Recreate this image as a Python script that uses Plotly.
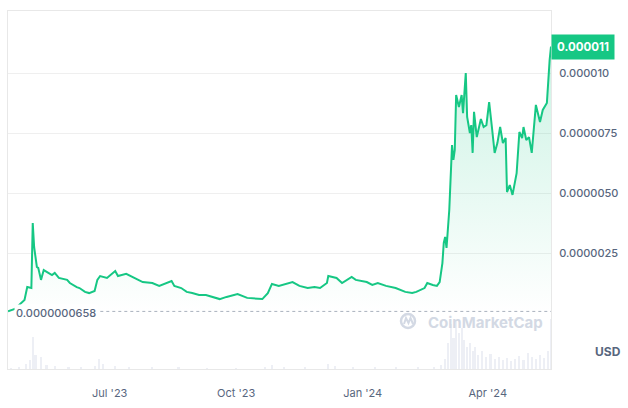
import plotly.graph_objects as go

# ---- data (values in units of 1e-6 USD) ----
dates = [
    "2023-04-18", "2023-04-23", "2023-04-30", "2023-05-02", "2023-05-05", "2023-05-06",
    "2023-05-07", "2023-05-09", "2023-05-10", "2023-05-12", "2023-05-14", "2023-05-20",
    "2023-05-22", "2023-05-25", "2023-05-31", "2023-06-02", "2023-06-07", "2023-06-09",
    "2023-06-13", "2023-06-16", "2023-06-20", "2023-06-22", "2023-06-24", "2023-06-29",
    "2023-07-05", "2023-07-07", "2023-07-13", "2023-07-18", "2023-07-25", "2023-08-01",
    "2023-08-06", "2023-08-15", "2023-08-17", "2023-08-22", "2023-08-26", "2023-08-30",
    "2023-09-04", "2023-09-09", "2023-09-19", "2023-09-24", "2023-10-02", "2023-10-09",
    "2023-10-20", "2023-10-24", "2023-10-27", "2023-11-01", "2023-11-11", "2023-11-16",
    "2023-11-22", "2023-11-27", "2023-12-01", "2023-12-06", "2023-12-07", "2023-12-13",
    "2023-12-17", "2023-12-24", "2023-12-27", "2024-01-04", "2024-01-08", "2024-01-12",
    "2024-01-18", "2024-01-25", "2024-02-01", "2024-02-06", "2024-02-09", "2024-02-15",
    "2024-02-17", "2024-02-21", "2024-02-24", "2024-02-26", "2024-02-28", "2024-02-29",
    "2024-03-01", "2024-03-02", "2024-03-03", "2024-03-04", "2024-03-06", "2024-03-07",
    "2024-03-08", "2024-03-09", "2024-03-11", "2024-03-13", "2024-03-14", "2024-03-16",
    "2024-03-17", "2024-03-19", "2024-03-20", "2024-03-21", "2024-03-22", "2024-03-24",
    "2024-03-27", "2024-03-29", "2024-03-31", "2024-04-02", "2024-04-04", "2024-04-06",
    "2024-04-08", "2024-04-10", "2024-04-12", "2024-04-14", "2024-04-15", "2024-04-17",
    "2024-04-19", "2024-04-22", "2024-04-24", "2024-04-26", "2024-04-27", "2024-04-29",
    "2024-05-01", "2024-05-03", "2024-05-06", "2024-05-09", "2024-05-11", "2024-05-14",
    "2024-05-16", "2024-05-17",
]
price = [
    0.07, 0.17, 0.54, 1.08, 1.04, 3.75,
    2.75, 1.92, 1.88, 1.38, 1.79, 1.58,
    1.67, 1.46, 1.38, 1.25, 1.08, 1.04,
    0.88, 0.83, 0.92, 1.38, 1.54, 1.46,
    1.75, 1.54, 1.63, 1.50, 1.29, 1.25,
    1.13, 1.33, 1.13, 1.04, 0.88, 0.83,
    0.75, 0.75, 0.58, 0.67, 0.79, 0.63,
    0.58, 0.83, 1.21, 1.13, 1.29, 1.13,
    1.04, 1.08, 1.04, 1.25, 1.54, 1.46,
    1.25, 1.50, 1.38, 1.29, 1.17, 1.25,
    1.13, 1.04, 0.88, 0.83, 0.88, 1.04,
    1.25, 1.17, 1.13, 1.29, 2.08, 2.92,
    3.17, 2.71, 3.46, 4.29, 7.00, 6.38,
    6.79, 9.08, 8.58, 9.08, 8.33, 10.0,
    8.17, 7.50, 7.83, 6.67, 8.38, 7.33,
    8.08, 7.75, 7.83, 8.79, 7.75, 6.67,
    7.08, 7.75, 7.08, 7.29, 5.04, 5.33,
    4.92, 5.83, 7.54, 7.29, 7.75, 7.21,
    7.33, 6.67, 8.67, 7.96, 8.46, 8.75,
    10.54, 11.1,
]
price_scale = 1e-6

vol_dates = [
    "2023-04-20", "2023-04-26", "2023-05-01", "2023-05-04", "2023-05-06", "2023-05-08",
    "2023-05-12", "2023-05-16", "2023-05-22", "2023-06-01", "2023-06-10", "2023-06-20",
    "2023-06-23", "2023-06-26", "2023-07-05", "2023-07-15", "2023-08-01", "2023-08-20",
    "2023-09-10", "2023-10-01", "2023-10-22", "2023-10-27", "2023-11-05", "2023-11-20",
    "2023-12-07", "2023-12-12", "2023-12-25", "2024-01-10", "2024-01-25", "2024-02-10",
    "2024-02-22", "2024-02-27", "2024-03-01", "2024-03-03", "2024-03-05", "2024-03-07",
    "2024-03-09", "2024-03-11", "2024-03-13", "2024-03-15", "2024-03-17", "2024-03-19",
    "2024-03-21", "2024-03-23", "2024-03-25", "2024-03-28", "2024-03-31", "2024-04-03",
    "2024-04-06", "2024-04-09", "2024-04-12", "2024-04-15", "2024-04-18", "2024-04-21",
    "2024-04-24", "2024-04-27", "2024-04-30", "2024-05-03", "2024-05-06", "2024-05-09",
    "2024-05-12", "2024-05-15", "2024-05-17",
]
volume = [
    1, 2, 5, 9, 31, 14,
    12, 4, 3, 2, 2, 3,
    10, 5, 3, 2, 1.5, 1.5,
    1, 1, 1.5, 4, 2, 1.5,
    5, 3, 2, 1.5, 1.5, 1.5,
    2, 4, 10, 25, 44, 30,
    47, 35, 40, 28, 22, 25,
    18, 22, 14, 18, 12, 15,
    10, 12, 9, 11, 8, 10,
    13, 9, 16, 12, 10, 14,
    11, 18, 49,
]

tick_dates = ["2023-07-01", "2023-10-01", "2024-01-01", "2024-04-01"]
tick_labels = ["Jul '23", "Oct '23", "Jan '24", "Apr '24"]
y_ticks = [2.5, 5.0, 7.5, 10.0]
y_tick_labels = ["0.0000025", "0.0000050", "0.0000075", "0.000010"]
min_label = "0.0000000658"
min_value = 0.0658
last_label = "0.000011"

GREEN = "#16c784"
GREY_TXT = "#58667e"
GRID = "#efefef"

yv = [p * price_scale for p in price]

fig = go.Figure()

fig.add_trace(go.Bar(
    x=vol_dates, y=volume, yaxis="y2",
    marker=dict(color="rgba(215,220,232,0.45)", line=dict(width=0)),
    width=1.6 * 86400000, hoverinfo="skip", showlegend=False,
))

fig.add_trace(go.Scatter(
    x=dates, y=yv, mode="lines",
    line=dict(color=GREEN, width=2),
    fill="tozeroy",
    fillgradient=dict(
        type="vertical",
        start=0, stop=11e-6,
        colorscale=[[0, "rgba(22,199,132,0.0)"], [1, "rgba(22,199,132,0.22)"]],
    ),
    showlegend=False,
))

# plot spans 358 px; price zero sits 56 px above the bottom; 24 px per 1e-6
y_lo = -56 / 24 * 1e-6
y_hi = (358 - 56) / 24 * 1e-6
vmax = max(volume)
v_hi = vmax / 50 * 358

fig.update_layout(
    width=628, height=408,
    margin=dict(l=8, r=77, t=11, b=39),
    paper_bgcolor="white", plot_bgcolor="white",
    font=dict(family="Inter, Roboto, sans-serif", color=GREY_TXT),
    xaxis=dict(
        type="date",
        range=["2023-04-18", "2024-05-17"],
        tickvals=tick_dates, ticktext=tick_labels,
        tickfont=dict(size=11, color=GREY_TXT),
        showgrid=False, zeroline=False,
        showline=True, linecolor="#e8e8e8", mirror=True,
        ticks="", ticklabelstandoff=14,
    ),
    yaxis=dict(
        range=[y_lo, y_hi],
        side="right",
        tickvals=[t * price_scale for t in y_ticks],
        ticktext=y_tick_labels,
        tickfont=dict(size=11, color=GREY_TXT, weight=500),
        showgrid=True, gridcolor=GRID, gridwidth=1,
        zeroline=False,
        showline=True, linecolor="#e8e8e8", mirror=True,
        ticks="", ticklabelstandoff=5,
    ),
    yaxis2=dict(
        range=[0, v_hi], overlaying="y", side="left",
        visible=False, showgrid=False, zeroline=False,
    ),
    bargap=0,
    shapes=[
        dict(type="line", xref="paper", yref="y", x0=0.17, x1=1,
             y0=min_value * price_scale, y1=min_value * price_scale,
             line=dict(color="#aab1bd", width=1, dash="dot")),
        dict(type="circle", xref="paper", yref="paper",
             x0=(401 - 8) / 543, x1=(415 - 8) / 543,
             y0=(369 - 328) / 358, y1=(369 - 314) / 358,
             line=dict(color="#d3d9e4", width=2.5)),
        dict(type="path", xref="paper", yref="paper",
             path="M {a},{b} L {c},{d} L {e},{f} L {g},{d} L {h},{b}".format(
                 a=(404 - 8) / 543, b=(369 - 324) / 358,
                 c=(406 - 8) / 543, d=(369 - 318) / 358,
                 e=(408.5 - 8) / 543, f=(369 - 323) / 358,
                 g=(410.5 - 8) / 543, h=(413 - 8) / 543),
             line=dict(color="#d3d9e4", width=2)),
    ],
    annotations=[
        dict(xref="paper", yref="y", x=0.0, y=min_value * price_scale,
             xanchor="left", yanchor="middle", xshift=6, yshift=-2,
             text=min_label, showarrow=False, bgcolor="white",
             font=dict(size=11, color=GREY_TXT, weight=500)),
        dict(xref="paper", yref="y", x=1.0, y=price[-1] * price_scale,
             xanchor="left", yanchor="middle", xshift=0,
             text="<b>" + last_label + "</b>", showarrow=False,
             bgcolor=GREEN, borderpad=5,
             font=dict(size=11.5, color="white")),
        dict(xref="paper", yref="paper", x=1.0, y=(369 - 351) / 358,
             xanchor="left", yanchor="middle", xshift=42,
             text="<b>USD</b>", showarrow=False,
             font=dict(size=12, color=GREY_TXT)),
        dict(xref="paper", yref="paper", x=(426 - 8) / 543, y=(369 - 322) / 358,
             xanchor="left", yanchor="middle",
             text="<b>CoinMarketCap</b>", showarrow=False,
             font=dict(size=15, color="#d3d9e4")),
    ],
)

fig.write_html("out.html")
